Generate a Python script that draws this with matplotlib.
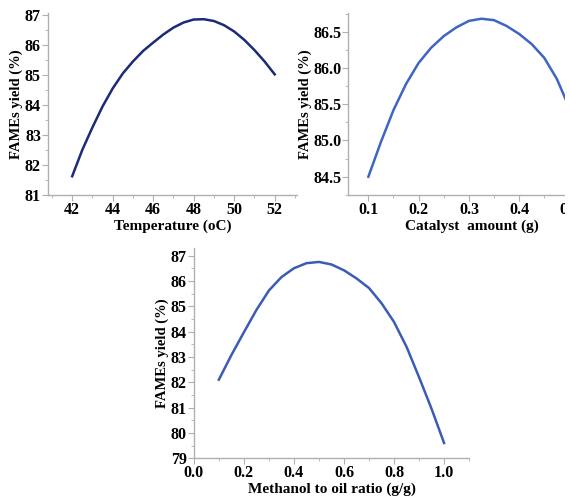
import matplotlib.pyplot as plt
from matplotlib.patches import Rectangle
from matplotlib.ticker import AutoMinorLocator, MultipleLocator

# response curves: FAMEs yield vs each reaction variable
temp = [42, 42.5, 43, 43.5, 44, 44.5, 45, 45.5, 46, 46.5, 47, 47.5, 48,
        48.5, 49, 49.5, 50, 50.5, 51, 51.5, 52]
temp_yield = [81.62, 82.5, 83.25, 83.95, 84.55, 85.05, 85.45, 85.8, 86.08,
              86.35, 86.58, 86.75, 86.85, 86.86, 86.8, 86.66, 86.45, 86.17,
              85.83, 85.45, 85.02]

catalyst = [0.1, 0.125, 0.15, 0.175, 0.2, 0.225, 0.25, 0.275, 0.3, 0.325,
            0.35, 0.375, 0.4, 0.425, 0.45, 0.475, 0.5]
catalyst_yield = [84.5, 84.98, 85.42, 85.78, 86.07, 86.28, 86.44, 86.56,
                  86.65, 86.68, 86.66, 86.58, 86.47, 86.33, 86.14, 85.85,
                  85.45]

ratio = [0.1, 0.15, 0.2, 0.25, 0.3, 0.35, 0.4, 0.45, 0.5, 0.55, 0.6, 0.65,
         0.7, 0.75, 0.8, 0.85, 0.9, 0.95, 1.0]
ratio_yield = [82.1, 83.07, 83.97, 84.85, 85.62, 86.15, 86.5, 86.7, 86.75,
               86.65, 86.42, 86.1, 85.72, 85.12, 84.38, 83.4, 82.2, 80.95,
               79.6]

plt.rcParams['font.family'] = 'Liberation Serif'
plt.rcParams['font.weight'] = 'bold'

fig = plt.figure(figsize=(5.7, 4.97), dpi=100)


def style(ax, xlabel):
    for s in ['top', 'right']:
        ax.spines[s].set_visible(False)
    for s in ['left', 'bottom']:
        ax.spines[s].set_color('#b0b0b0')
        ax.spines[s].set_linewidth(1.0)
    ax.xaxis.set_minor_locator(AutoMinorLocator(2))
    ax.yaxis.set_minor_locator(AutoMinorLocator(2))
    ax.tick_params(which='major', length=4, color='#b0b0b0', labelsize=11.5, pad=1)
    ax.tick_params(which='minor', length=2, color='#b0b0b0')
    for lab in ax.get_xticklabels() + ax.get_yticklabels():
        lab.set_fontweight('bold')
    ax.set_xlabel(xlabel, fontsize=11, fontweight='bold', labelpad=1)
    ax.set_ylabel('FAMEs yield (%)', fontsize=10.5, fontweight='bold', labelpad=1)


ax1 = fig.add_axes([0.084, 0.608, 0.437, 0.366])
ax1.plot(temp, temp_yield, color='#1c2a78', lw=1.8)
ax1.set_xlim(40.8, 53.1)
ax1.set_ylim(81, 87.07)
ax1.xaxis.set_major_locator(MultipleLocator(2))
ax1.yaxis.set_major_locator(MultipleLocator(1))
style(ax1, 'Temperature (oC)')

ax2 = fig.add_axes([0.611, 0.608, 0.432, 0.366])
ax2.plot(catalyst, catalyst_yield, color='#3f65c4', lw=1.8)
ax2.set_xlim(0.06, 0.55)
ax2.set_ylim(84.25, 86.76)
ax2.xaxis.set_major_locator(MultipleLocator(0.1))
ax2.yaxis.set_major_locator(MultipleLocator(0.5))
ax2.xaxis.set_major_formatter(plt.FormatStrFormatter('%.1f'))
ax2.yaxis.set_major_formatter(plt.FormatStrFormatter('%.1f'))
style(ax2, 'Catalyst  amount (g)')

ax3 = fig.add_axes([0.340, 0.078, 0.483, 0.423])
ax3.plot(ratio, ratio_yield, color='#3a5cb4', lw=1.8)
ax3.set_xlim(0, 1.1)
ax3.set_ylim(79, 87.3)
ax3.xaxis.set_major_locator(MultipleLocator(0.2))
ax3.yaxis.set_major_locator(MultipleLocator(1))
ax3.xaxis.set_major_formatter(plt.FormatStrFormatter('%.1f'))
style(ax3, 'Methanol to oil ratio (g/g)')

# the right-hand panel runs off the page edge
fig.add_artist(Rectangle((565 / 570, 0), 5 / 570, 1, transform=fig.transFigure,
                         facecolor='white', edgecolor='none', zorder=10))

fig.savefig('out.png', dpi=100)
